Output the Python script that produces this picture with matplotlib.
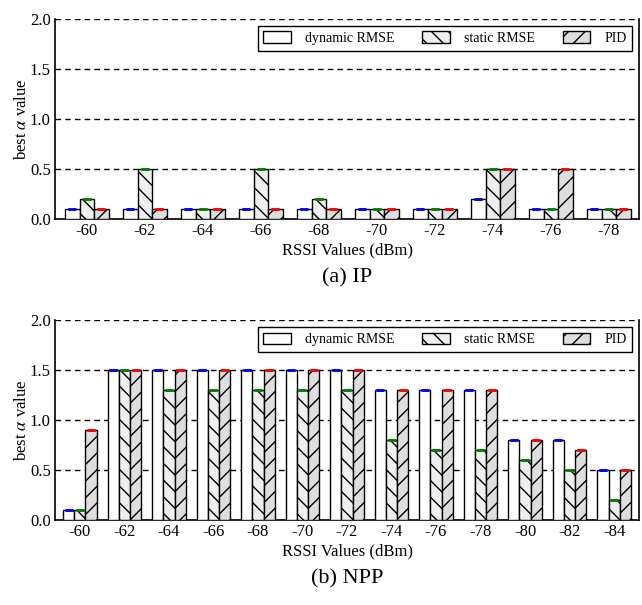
import numpy as np
import matplotlib
matplotlib.use('Agg')
import matplotlib.pyplot as plt

plt.rcParams['font.family'] = ['Liberation Serif', 'DejaVu Serif']
plt.rcParams['mathtext.fontset'] = 'stix'
plt.rcParams['hatch.linewidth'] = 1.0

# (a) IP
ip_rssi = ['-60', '-62', '-64', '-66', '-68', '-70', '-72', '-74', '-76', '-78']
ip_dynamic = [0.1, 0.1, 0.1, 0.1, 0.1, 0.1, 0.1, 0.2, 0.1, 0.1]
ip_static = [0.2, 0.5, 0.1, 0.5, 0.2, 0.1, 0.1, 0.5, 0.1, 0.1]
ip_pid = [0.1, 0.1, 0.1, 0.1, 0.1, 0.1, 0.1, 0.5, 0.5, 0.1]

# (b) NPP
npp_rssi = ['-60', '-62', '-64', '-66', '-68', '-70', '-72', '-74', '-76', '-78', '-80', '-82', '-84']
npp_dynamic = [0.1, 1.5, 1.5, 1.5, 1.5, 1.5, 1.5, 1.3, 1.3, 1.3, 0.8, 0.8, 0.5]
npp_static = [0.1, 1.5, 1.3, 1.3, 1.3, 1.3, 1.3, 0.8, 0.7, 0.7, 0.6, 0.5, 0.2]
npp_pid = [0.9, 1.5, 1.5, 1.5, 1.5, 1.5, 1.5, 1.3, 1.3, 1.3, 0.8, 0.7, 0.5]

labels = ['dynamic RMSE', 'static RMSE', 'PID']
fills = ['white', '#efefef', '#dedede']
hatches = ['', '\\\\', '//']
caps = ['blue', 'green', 'red']
w = 0.25


def draw(ax, rssi, series):
    x = np.arange(len(rssi))
    for i, vals in enumerate(series):
        pos = x + (i - 1) * w
        ax.bar(pos, vals, w, color=fills[i], edgecolor='black', linewidth=1.0,
               hatch=hatches[i], label=labels[i], zorder=3)
        ax.errorbar(pos, vals, yerr=np.zeros(len(vals)), fmt='none', ecolor=caps[i],
                    capsize=2.8, capthick=1.8, elinewidth=0, zorder=4)
    ax.set_xticks(x)
    ax.set_xticklabels(rssi)
    ax.set_ylim(0, 2.0)
    ax.set_yticks([0.0, 0.5, 1.0, 1.5, 2.0])
    ax.set_yticklabels(['0.0', '0.5', '1.0', '1.5', '2.0'])
    ax.yaxis.grid(True, linestyle=(0, (4, 3)), color='black', linewidth=1.0, zorder=0)
    ax.set_axisbelow(True)
    ax.spines['top'].set_visible(False)
    for s in ['left', 'bottom', 'right']:
        ax.spines[s].set_linewidth(1.2)
    ax.tick_params(length=0, labelsize=12, pad=3)
    ax.set_xlabel('RSSI Values (dBm)', fontsize=12, labelpad=2)
    ax.set_ylabel(r'best $\alpha$ value', fontsize=12, labelpad=0)
    leg = ax.legend(loc='upper right', ncol=3, fontsize=10, fancybox=False,
                    edgecolor='black', handlelength=2.0, handleheight=0.9,
                    columnspacing=2.0, handletextpad=1.0, framealpha=1)
    leg.get_frame().set_linewidth(1.0)


fig = plt.figure(figsize=(6.42, 6.05), dpi=100)
ax1 = fig.add_axes([55 / 642, 1 - 219 / 605, 584 / 642, 200 / 605])
ax2 = fig.add_axes([55 / 642, 1 - 520 / 605, 584 / 642, 200 / 605])

draw(ax1, ip_rssi, [ip_dynamic, ip_static, ip_pid])
draw(ax2, npp_rssi, [npp_dynamic, npp_static, npp_pid])
ax1.set_xlim(-0.55, 9.52)
ax2.set_xlim(-0.56, 12.56)

fig.text(347 / 642, 1 - 278 / 605, '(a) IP', ha='center', va='center', fontsize=16)
fig.text(347 / 642, 1 - 579 / 605, '(b) NPP', ha='center', va='center', fontsize=16)

fig.savefig('out.png', dpi=100)
